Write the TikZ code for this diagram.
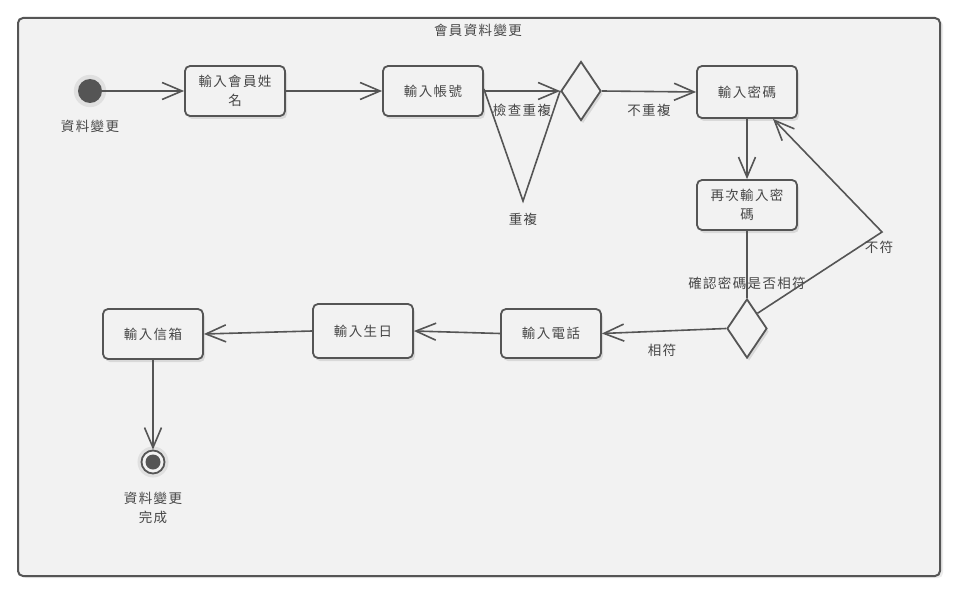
\documentclass[tikz,border=0pt]{standalone}
\usepackage{fontspec}
\setmainfont{Noto Sans CJK TC}[LetterSpace=10]
\usetikzlibrary{shapes.geometric,arrows.meta,calc,shadows}
\definecolor{ink}{HTML}{555555}
\definecolor{paper}{HTML}{F2F2F2}
\definecolor{txt}{HTML}{474747}

\tikzset{
  softshadow/.style={drop shadow={shadow xshift=2pt, shadow yshift=-3pt,
      opacity=0.10, fill=black}},
  glow/.style={drop shadow={shadow xshift=0pt, shadow yshift=0pt,
      shadow scale=1.35, opacity=0.07, fill=black}},
  action/.style={draw=ink, line width=1.8pt, rounded corners=5pt, fill=paper,
      minimum width=100pt, minimum height=50pt, align=center, inner sep=2pt,
      softshadow},
  choice/.style={diamond, draw=ink, line width=1.8pt, fill=paper,
      minimum width=40pt, minimum height=59pt, inner sep=0pt, softshadow},
  startstate/.style={circle, fill=ink, minimum size=24pt, inner sep=0pt, glow},
  endstate/.style={circle, draw=ink, line width=1.8pt, fill=paper,
      minimum size=23pt, inner sep=0pt, glow,
      path picture={\fill[ink] (path picture bounding box.center) circle (7.5pt);}},
  flow/.style={draw=ink, line width=1.6pt,
      -{Straight Barb[length=20pt, width=17pt, line width=1.6pt]}},
  plainflow/.style={draw=ink, line width=1.6pt},
  lbl/.style={inner sep=1pt, text=txt},
  frame/.style={draw=ink, line width=2pt, fill=paper, rounded corners=5pt,
      drop shadow={shadow xshift=3pt, shadow yshift=-2pt, opacity=0.08, fill=black}}
}

\begin{document}
\begin{tikzpicture}[x=1pt, y=-1pt,
    every node/.append style={font=\fontsize{13.5}{19}\selectfont, text=txt}]
  \useasboundingbox (0,0) rectangle (960,596);
  \fill[white] (0,0) rectangle (960,596);

  % activity frame
  \draw[frame] (18,18) rectangle (940,576);
  \node[lbl] (title) at (478,30) {會員資料變更};

  % states and actions
  \node[startstate] (start) at (90,91) {};
  \node[lbl] (startlbl) at (90,126) {資料變更};
  \node[action] (name) at (235,91) {輸入會員姓\\名};
  \node[action] (account) at (433,91) {輸入帳號};
  \node[choice] (dup) at (581,91) {};
  \node[action, minimum height=52pt] (pwd) at (747,92) {輸入密碼};
  \node[action] (pwd2) at (747,205) {再次輸入密\\碼};
  \node[choice] (same) at (747,328.5) {};
  \node[action, minimum height=49pt] (phone) at (551,333.5) {輸入電話};
  \node[action, minimum height=54pt] (birth) at (363,331) {輸入生日};
  \node[action] (mail) at (153,334) {輸入信箱};
  \node[endstate] (end) at (153,462) {};
  \node[lbl, align=center] (endlbl) at (153,508) {資料變更\\完成};

  % bend points of the return paths
  \coordinate (dupturn) at (523,201);
  \coordinate (missturn) at (882,232);

  % transitions
  \draw[flow] (start) -- (name);
  \draw[flow] (name) -- (account);
  \draw[flow] (account.east) -- node[lbl, below=11pt] {檢查重複} (dup.west);
  \draw[plainflow] (dup.west) -- (dupturn) -- ([yshift=2pt]account.east);
  \node[lbl, below=11pt] (duplbl) at (dupturn) {重複};
  \draw[flow] (dup.east) -- node[lbl, below=11pt] {不重複} (pwd.west);
  \draw[flow] (pwd.south) -- (pwd2.north);
  \draw[plainflow] (pwd2.south) -- node[lbl, pos=0.78] {確認密碼是否相符} (same.north);
  \draw[flow] ($(same.north)!0.5!(same.east)$) -- (missturn)
      -- ([xshift=26pt]pwd.south);
  \node[lbl, below=8pt, xshift=-3pt] (misslbl) at (missturn) {不符};
  \draw[flow] (same.west) -- node[lbl, below=11pt, xshift=-2pt] {相符} (phone.east);
  \draw[flow] (phone.west) -- (birth.east);
  \draw[flow] (birth.west) -- (mail.east);
  \draw[flow] (mail.south) -- (end.north);
\end{tikzpicture}
\end{document}
